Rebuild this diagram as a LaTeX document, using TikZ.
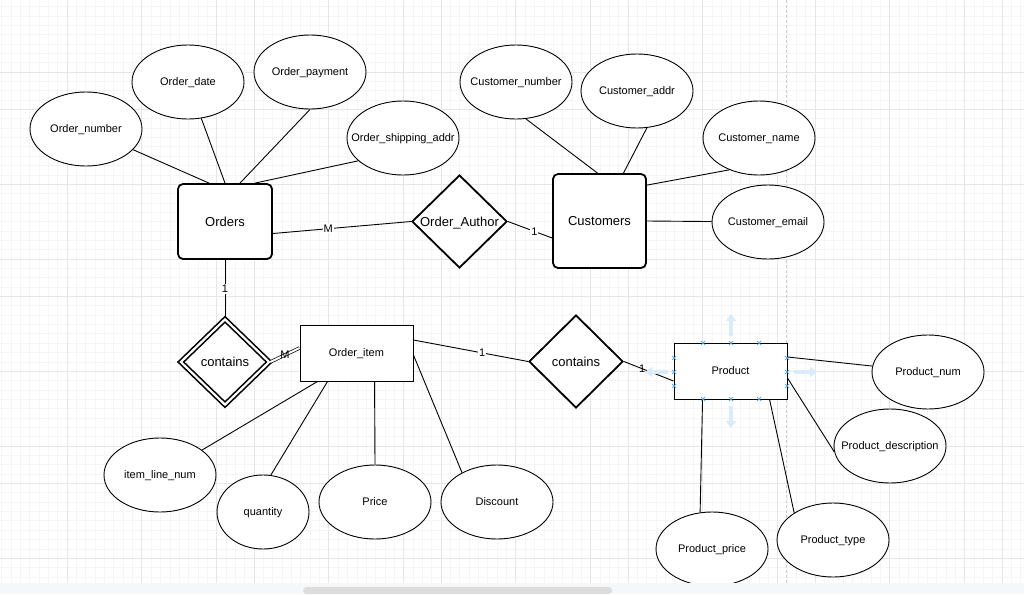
\documentclass[tikz,border=0pt]{standalone}
\usepackage{fontspec}
\setmainfont{Liberation Sans}
\usetikzlibrary{arrows.meta,calc,shapes.geometric}

\definecolor{gridmajor}{HTML}{E6E6E6}
\definecolor{gridminor}{HTML}{F5F5F5}
\definecolor{pagebreak}{HTML}{CFCFCF}
\definecolor{handle}{HTML}{3FA9F5}
\definecolor{handlefill}{HTML}{D9ECFA}
\definecolor{scrollbg}{HTML}{F6F7F9}
\definecolor{scrollthumb}{HTML}{DCDCDC}

\begin{document}
\begin{tikzpicture}[x=1pt,y=-1pt,
  every node/.style={font=\fontsize{11}{13}\selectfont},
  attr/.style={draw,ellipse,fill=white,inner sep=0pt,text depth=0pt,minimum width=112pt,minimum height=74pt,line width=0.9pt},
  entity/.style={draw,rectangle,fill=white,text depth=0pt,line width=1.8pt,rounded corners=5pt,font=\fontsize{13}{15}\selectfont},
  plainent/.style={draw,rectangle,fill=white,text depth=0pt,line width=0.9pt,minimum width=113pt,minimum height=56pt},
  rel/.style={draw,diamond,fill=white,inner sep=0pt,text depth=0pt,line width=1.8pt,minimum width=95pt,minimum height=93pt,font=\fontsize{13}{15}\selectfont},
  link/.style={line width=0.9pt},
  card/.style={fill=white,inner sep=1pt,font=\fontsize{11}{13}\selectfont},
  handlemark/.style={draw=handle,line width=0.7pt},
  handlearrow/.style={draw=handlefill,line width=4.5pt,-{Triangle[width=10pt,length=7pt]}}]
  \useasboundingbox (0,0) rectangle (1024,594);
  \fill[white] (0,0) rectangle (1024,594);

  % background grid
  \foreach \gx in {0,...,109}
    \draw[gridminor,line width=0.7pt] ({1.55+9.35*\gx},0) -- ({1.55+9.35*\gx},583);
  \foreach \gy in {0,...,61}
    \draw[gridminor,line width=0.7pt] (0,{6.55+9.35*\gy}) -- (1024,{6.55+9.35*\gy});
  \foreach \gx in {67,141.8,216.6,254,328.8,403.6,441,515.8,590.6,628,702.8,777.6,815,889.8,964.6,1002}
    \draw[gridmajor,line width=1pt] (\gx,0) -- (\gx,583);
  \foreach \gy in {72,109.4,184.2,259,296.4,371.2,446,483.4,558.2}
    \draw[gridmajor,line width=1pt] (0,\gy) -- (1024,\gy);
  \draw[pagebreak,line width=1pt,dash pattern=on 3pt off 2pt] (786,0) -- (786,583);

  % entities and relationships
  \node[entity,minimum width=94pt,minimum height=75pt] (orders) at (225,221.5) {Orders};
  \node[entity,minimum width=93pt,minimum height=94pt] (customers) at (599.5,221) {Customers};
  \node[rel] (author) at (459.5,221.5) {\makebox[0pt]{Order\_Author}};
  \node[rel,double,double distance=2.2pt,line width=1.6pt,minimum width=89pt,minimum height=86pt] (weak) at (225,362) {contains};
  \node[rel,minimum width=94pt] (holds) at (576,361.5) {contains};
  \node[plainent] (item) at (356.5,353) {Order\_item};
  \node[plainent] (product) at (730.5,371) {Product};

  % attributes
  \foreach \name/\x/\y/\txt in {
    ordnum/86/129/Order\_number,
    orddate/188/82/Order\_date,
    ordpay/310/72/Order\_payment,
    ordship/403/138/Order\_shipping\_addr,
    custnum/516/82/Customer\_number,
    custaddr/637/91/Customer\_addr,
    custname/759/138/Customer\_name,
    custemail/768/222/Customer\_email,
    linenum/160/475/item\_line\_num,
    price/375/502/Price,
    discount/497/502/Discount,
    prodnum/928/372/Product\_num,
    proddesc/890/446/Product\_description,
    prodprice/712/549/Product\_price,
    prodtype/833/540/Product\_type}{
      \node[attr] (\name) at (\x,\y) {\makebox[0pt]{\txt}};
  }
  \node[attr,minimum width=92pt] (qty) at (263,512) {\makebox[0pt]{quantity}};

  % connectors
  \draw[link] (ordnum) -- ([xshift=-16pt]orders.north);
  \draw[link] (orddate) -- (orders.north);
  \draw[link] (ordpay.south) -- ([xshift=15pt]orders.north);
  \draw[link] (ordship.207) -- ([xshift=30pt]orders.north);
  \draw[link] (custnum.-75) -- ([xshift=-2pt]customers.north);
  \draw[link] (custaddr.-75) -- ([xshift=24pt]customers.north);
  \draw[link] (custname.227) -- ([yshift=-12pt]customers.north east);
  \draw[link] (custemail) -- (customers.east);
  \draw[link] ([yshift=-12pt]orders.east) -- (author.west) node[card,pos=0.4] {M};
  \draw[link] (author.east) -- ([yshift=-17pt]customers.west) node[card,pos=0.6] {1};
  \draw[link] (orders.south) -- (weak.north) node[card,pos=0.5] {1};
  \draw[link,double,double distance=2pt,line width=0.7pt] (weak.east) -- ([yshift=5pt]item.west) node[card,pos=0.5,fill=none] {M};
  \draw[link] ([yshift=13pt]item.east) -- (holds.west) node[card,pos=0.6] {1};
  \draw[link] (holds.east) -- ([yshift=-10pt]product.west) node[card,pos=0.37,fill=none] {1};
  \draw[link] (linenum) -- ([xshift=18pt]item.south west);
  \draw[link] (qty.78) -- ([xshift=28pt]item.south west);
  \draw[link] (price.north) -- ([xshift=75pt]item.south west);
  \draw[link] (discount.140) -- ([yshift=-2pt]item.east);
  \draw[link] (prodnum) -- ([yshift=14pt]product.east);
  \draw[link] (proddesc.186) -- ([yshift=-7pt]product.east);
  \draw[link] (prodprice.108) -- ([xshift=29pt]product.south west);
  \draw[link] (prodtype.145) -- ([xshift=96pt]product.south west);

  % selection handles on Product
  \draw[handlearrow] (731,336) -- (731,314);
  \draw[handlearrow] (731,406) -- (731,428);
  \draw[handlearrow] (668,372) -- (645,372);
  \draw[handlearrow] (794,372) -- (817,372);
  \foreach \hx/\hy in {703/343,731/343,759/343,703/399,731/399,759/399,
      674/358,674/372,674/386,787/358,787/372,787/386}
    \draw[handlemark] (\hx-2,\hy-2) -- (\hx+2,\hy+2) (\hx-2,\hy+2) -- (\hx+2,\hy-2);

  % scroll bar
  \fill[scrollbg] (0,583) rectangle (1024,594);
  \fill[scrollthumb,rounded corners=3.5pt] (303,587) rectangle (612,594);
\end{tikzpicture}
\end{document}
